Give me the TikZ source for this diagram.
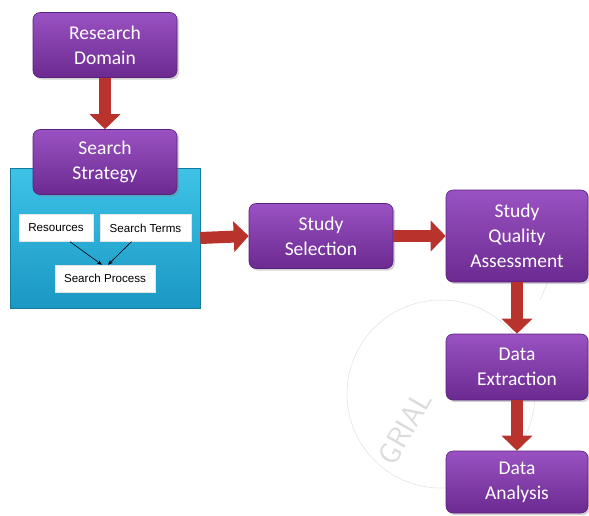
\documentclass[tikz,border=0pt]{standalone}
\usepackage{fontspec}
\setmainfont{Carlito}
\newfontfamily\arialfont{Liberation Sans}
\usetikzlibrary{arrows.meta,shadows}
\definecolor{purpTop}{HTML}{9A52C2}
\definecolor{purpBot}{HTML}{6B2A90}
\definecolor{purpEdge}{HTML}{5A2080}
\definecolor{cyanTop}{HTML}{3EC3E6}
\definecolor{cyanBot}{HTML}{1A98C4}
\definecolor{arrRed}{HTML}{B8332B}
\tikzset{
  stage/.style={rectangle, rounded corners=7pt, top color=purpTop, bottom color=purpBot,
    draw=purpEdge, line width=0.6pt, text=white, align=center,
    font=\fontsize{19.5}{25}\selectfont, inner sep=0pt,
    drop shadow={shadow xshift=2pt, shadow yshift=-2pt, opacity=0.35}},
  small/.style={rectangle, fill=white, draw=white!80!gray, align=center,
    font=\arialfont\fontsize{11.6}{13}\selectfont, inner sep=0pt},
  flow/.style={-{Triangle[width=30pt,length=15pt]}, line width=12pt, draw=arrRed},
  thin/.style={-{Stealth[length=5pt,width=4pt]}, line width=0.6pt, black},
}
\begin{document}
\begin{tikzpicture}[x=1pt,y=-1pt]
\useasboundingbox (0,0) rectangle (589,515);
% watermark
\draw[gray!22, line width=0.6pt] (441,394) circle (94);
\draw[gray!22, line width=0.6pt] (540,300) -- (589,190);
\node[gray!28, rotate=60, font=\sffamily\fontsize{30}{30}\selectfont] (wm) at (405,428) {GRIAL};
% cyan container
\node[rectangle, top color=cyanTop, bottom color=cyanBot, draw=cyanBot!80!black, line width=0.5pt,
  minimum width=190pt, minimum height=140pt, inner sep=0pt] (box) at (105,238) {};
% stage boxes
\node[stage, minimum width=144pt, minimum height=65pt] (rd) at (105,45) {Research\\Domain};
\node[stage, minimum width=144pt, minimum height=65pt] (ss) at (105,162) {Search\\Strategy};
\node[stage, minimum width=144pt, minimum height=65pt] (sel) at (321,236) {Study\\Selection};
\node[stage, minimum width=142pt, minimum height=92pt] (qa) at (517,236) {Study\\Quality\\Assessment};
\node[stage, minimum width=142pt, minimum height=66pt] (de) at (517,367) {Data\\Extraction};
\node[stage, minimum width=142pt, minimum height=62pt] (da) at (517,482) {Data\\Analysis};
% small boxes
\node[small, minimum width=74pt, minimum height=27pt] (res) at (56,228) {Resources};
\node[small, minimum width=91pt, minimum height=27pt] (st) at (145.5,228) {Search Terms};
\node[small, minimum width=100pt, minimum height=27pt] (sp) at (105,278.5) {Search Process};
\draw[thin] (res.south) ++(14,0) coordinate (r1) -- ([xshift=-3pt]sp.north);
\draw[thin] (st.south) ++(-14,0) coordinate (s1) -- ([xshift=3pt]sp.north);
% flow arrows
\draw[flow] (rd.south) -- (ss.north);
\draw[flow] (box.east) -- (sel.west);
\draw[flow] (sel.east) -- (qa.west);
\draw[flow] (qa.south) -- (de.north);
\draw[flow] (de.south) -- (da.north);
\end{tikzpicture}
\end{document}
